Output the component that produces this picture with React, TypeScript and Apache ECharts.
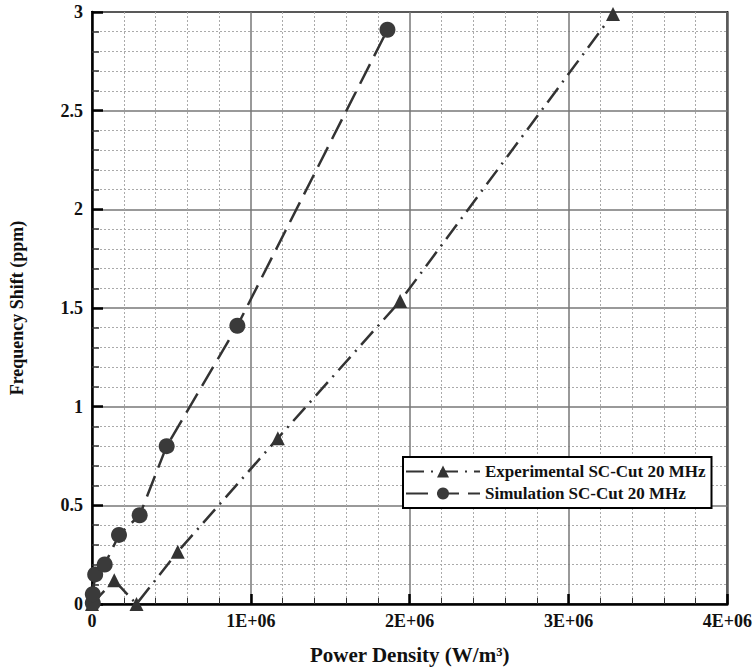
import React, { useEffect, useRef } from "react";
import * as echarts from "echarts";

const simulationData: [number, number][] = [
  [5000, 0.005],
  [5000, 0.05],
  [20000, 0.15],
  [80000, 0.2],
  [170000, 0.35],
  [300000, 0.45],
  [470000, 0.8],
  [915000, 1.41],
  [1860000, 2.91],
];

const experimentalData: [number, number][] = [
  [0, 0],
  [140000, 0.12],
  [280000, 0],
  [540000, 0.265],
  [1170000, 0.84],
  [1940000, 1.535],
  [3280000, 2.99],
];

const seriesNames = ["Experimental SC-Cut 20 MHz", "Simulation SC-Cut 20 MHz"];
const xAxisTitle = "Power Density (W/m³)";
const yAxisTitle = "Frequency Shift (ppm)";

const FONT = "'Liberation Serif', 'Times New Roman', serif";

export default function App() {
  const ref = useRef<HTMLDivElement>(null);
  useEffect(() => {
    if (!ref.current) return;
    const chart = echarts.init(ref.current, undefined, { renderer: "svg" });
    chart.setOption({
      animation: false,
      backgroundColor: "#fff",
      grid: {
        left: 89,
        right: 24,
        top: 12,
        bottom: 59,
        show: true,
        borderColor: "#000",
        borderWidth: 2,
        backgroundColor: "transparent",
      },
      legend: {
        show: true,
        orient: "vertical",
        left: 403,
        top: 457,
        data: seriesNames,
        itemWidth: 74,
        itemHeight: 15,
        itemGap: 5,
        itemTextGap: 24,
        padding: [6, 6, 6, 2],
        backgroundColor: "#fff",
        borderColor: "#000",
        borderWidth: 2,
        borderRadius: 0,
        textStyle: {
          fontFamily: FONT,
          fontWeight: "bold",
          fontSize: 17,
          color: "#111",
        },
      },
      xAxis: {
        type: "value",
        min: 0,
        max: 4000000,
        interval: 1000000,
        name: xAxisTitle,
        nameLocation: "middle",
        nameGap: 40,
        nameTextStyle: {
          fontFamily: FONT,
          fontWeight: "bold",
          fontSize: 21,
          color: "#111",
        },
        axisLine: { show: true, lineStyle: { color: "#000", width: 2.5 } },
        axisTick: { show: true, inside: true, length: 10, lineStyle: { color: "#000", width: 2.5 } },
        minorTick: { show: true, splitNumber: 5, length: 6, lineStyle: { color: "#333", width: 1 } },
        axisLabel: {
          fontFamily: FONT,
          fontWeight: "bold",
          fontSize: 18,
          color: "#111",
          margin: 8,
          formatter: (v: number) => (v === 0 ? "0" : `${v / 1000000}E+06`),
        },
        splitLine: { show: true, lineStyle: { color: "#777", width: 1.5 } },
        minorSplitLine: { show: true, lineStyle: { color: "#aaa", width: 1, type: [2, 2] } },
      },
      yAxis: {
        type: "value",
        min: 0,
        max: 3,
        interval: 0.5,
        name: yAxisTitle,
        nameLocation: "middle",
        nameGap: 66,
        nameTextStyle: {
          fontFamily: FONT,
          fontWeight: "bold",
          fontSize: 18,
          color: "#111",
        },
        axisLine: { show: true, lineStyle: { color: "#000", width: 2.5 } },
        axisTick: { show: true, inside: true, length: 11, lineStyle: { color: "#000", width: 2.5 } },
        minorTick: { show: true, splitNumber: 5, length: 7, lineStyle: { color: "#333", width: 1.5 } },
        axisLabel: {
          fontFamily: FONT,
          fontWeight: "bold",
          fontSize: 18,
          color: "#111",
          margin: 9,
        },
        splitLine: { show: true, lineStyle: { color: "#777", width: 1.5 } },
        minorSplitLine: { show: true, lineStyle: { color: "#aaa", width: 1, type: [2, 2] } },
      },
      series: [
        {
          name: seriesNames[0],
          type: "line",
          data: experimentalData,
          symbol: "triangle",
          symbolSize: 14,
          itemStyle: { color: "#333" },
          lineStyle: { color: "#333", width: 2.5, type: [18, 7, 2, 7] },
          z: 3,
        },
        {
          name: seriesNames[1],
          type: "line",
          data: simulationData,
          symbol: "circle",
          symbolSize: 16,
          itemStyle: { color: "#3a3a3a" },
          lineStyle: { color: "#333", width: 2.5, type: [22, 9] },
          z: 4,
        },
      ],
    });
    return () => chart.dispose();
  }, []);
  return (
    <div
      ref={ref}
      style={{ position: "fixed", left: 0, top: 0, width: 755, height: 670 }}
    />
  );
}
